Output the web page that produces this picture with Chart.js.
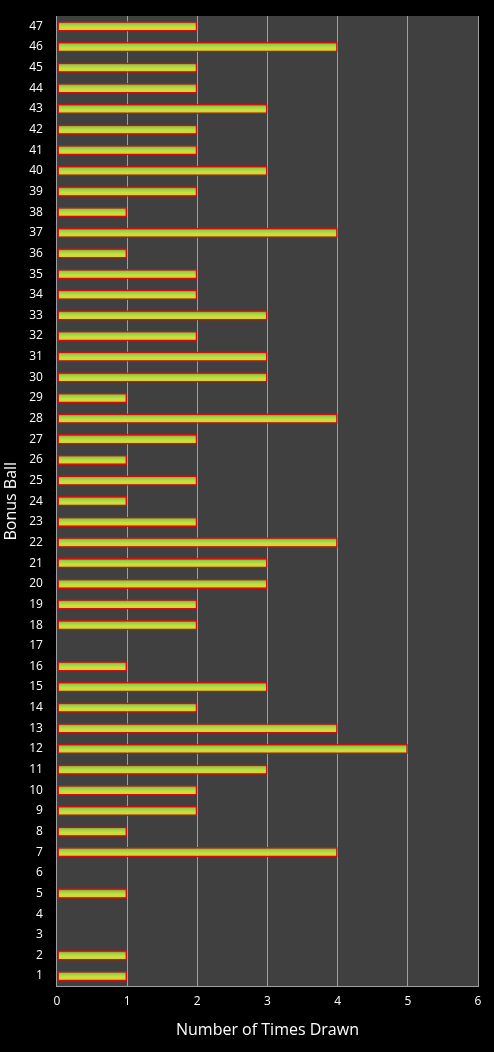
<!DOCTYPE html>
<html><head><meta charset="utf-8">
<script src="https://cdn.jsdelivr.net/npm/chart.js@4/dist/chart.umd.min.js"></script>
<style>html,body{margin:0;background:#000;}#wrap{width:494px;height:1052px;}</style>
</head><body><div id="wrap"><canvas id="c"></canvas></div>
<script>
var balls = [];
for (var i = 1; i <= 47; i++) balls.push(String(i));
var drawn = [1,1,0,0,1,0,4,1,2,2,3,5,4,2,3,1,0,2,2,3,3,4,2,1,2,1,2,4,1,3,3,2,3,2,2,1,4,1,2,3,2,2,3,2,2,4,2];
var xTicks = [0,1,2,3,4,5,6];

var plotBg = {
  id: 'plotBg',
  beforeDraw: function(chart) {
    var a = chart.chartArea, c = chart.ctx;
    c.save(); c.fillStyle = '#404040';
    c.fillRect(a.left, a.top, a.right - a.left, a.bottom - a.top);
    c.restore();
  }
};

function barFill(context) {
  var chart = context.chart;
  if (!chart.chartArea) return '#9acd32';
  var y = chart.scales.y.getPixelForValue(context.dataIndex);
  var g = chart.ctx.createLinearGradient(0, y - 5, 0, y + 5);
  g.addColorStop(0, '#e03010');
  g.addColorStop(0.25, '#8fd040');
  g.addColorStop(0.6, '#c8e040');
  g.addColorStop(0.85, '#e8d020');
  g.addColorStop(1, '#c02010');
  return g;
}

new Chart(document.getElementById('c'), {
  type: 'bar',
  data: {
    labels: balls,
    datasets: [{
      data: drawn,
      backgroundColor: barFill,
      borderColor: '#d01010',
      borderWidth: 1.5,
      borderSkipped: false,
      barPercentage: 0.5,
      categoryPercentage: 1
    }]
  },
  options: {
    indexAxis: 'y',
    responsive: true,
    maintainAspectRatio: false,
    animation: false,
    layout: { padding: { top: 16, right: 16, bottom: 8 } },
    plugins: { legend: { display: false }, tooltip: { enabled: false } },
    scales: {
      x: {
        min: 0, max: 6,
        afterBuildTicks: function(s) { s.ticks = xTicks.map(function(v){ return {value: v}; }); },
        grid: { color: '#a0a0a0', drawTicks: false },
        border: { color: '#a0a0a0' },
        ticks: { color: '#fff', font: { family: 'Open Sans', size: 12 }, padding: 8 },
        title: { display: true, text: 'Number of Times Drawn', color: '#fff', font: { family: 'Open Sans', size: 16 } }
      },
      y: {
        reverse: true,
        grid: { display: false },
        border: { color: '#a0a0a0' },
        ticks: { color: '#fff', font: { family: 'Open Sans', size: 12 }, autoSkip: false, padding: 6 },
        title: { display: true, text: 'Bonus Ball', color: '#fff', font: { family: 'Open Sans', size: 16 }, padding: 2 }
      }
    }
  },
  plugins: [plotBg]
});
</script></body></html>
